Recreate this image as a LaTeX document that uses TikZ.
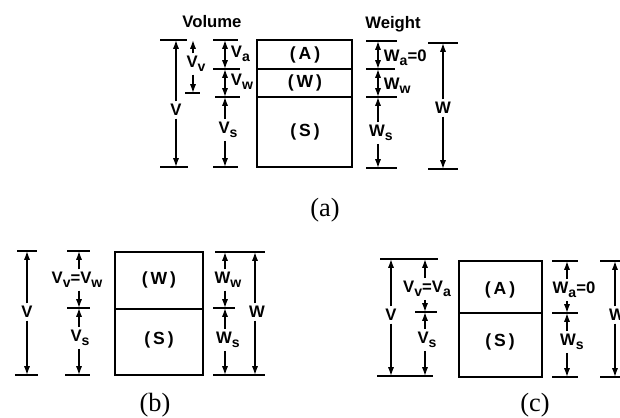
\documentclass[tikz,border=0pt]{standalone}
\usepackage{fontspec}
\setmainfont{Liberation Serif}
\setsansfont{Liberation Sans}
\usetikzlibrary{arrows.meta}
\newcommand{\lowsub}[1]{\raisebox{-0.45ex}{\fontsize{8}{8}\selectfont #1}}

\begin{document}
\begin{tikzpicture}[x=0.02cm, y=-0.02cm,
    lbl/.style={font=\sffamily\bfseries\fontsize{9.5}{10}\selectfont, inner sep=1.5pt},
    box_lbl/.style={font=\sffamily\bfseries\fontsize{10}{10}\selectfont},
    head/.style={font=\sffamily\bfseries\fontsize{9.5}{10}\selectfont},
    captxt/.style={font=\fontsize{15}{16}\selectfont},
    bar/.style={line width=0.9pt},
    box/.style={line width=1pt},
    dim/.style={line width=0.8pt, -{Latex[length=5pt,width=3.5pt]}},
    dimboth/.style={line width=0.8pt, {Latex[length=5pt,width=3.5pt]}-{Latex[length=5pt,width=3.5pt]}}]
    \useasboundingbox (0,0) rectangle (620,417);

    % (a) three phases
    \node[head] (a_vol) at (212,22) {Volume};
    \node[head] (a_wgt) at (393,24) {Weight};

    \draw[box] (257,40) rectangle (352,167);
    \draw[box] (257,69) -- (352,69);
    \draw[box] (257,97) -- (352,97);
    \node[box_lbl] (a_A) at (305,55) {(\,A\,)};
    \node[box_lbl] (a_W) at (305,83) {(\,W\,)};
    \node[box_lbl] (a_S) at (305,132) {(\,S\,)};

    \draw[bar] (160,40) -- (187,40);
    \draw[bar] (160,167) -- (188,167);
    \coordinate (aV1) at (176,40);
    \coordinate (aV2) at (176,167);
    \node[lbl] (aV) at (176,110) {V};
    \draw[dim] (aV) -- (aV1);
    \draw[dim] (aV) -- (aV2);

    \draw[bar] (185,93) -- (200,93);
    \coordinate (aVv1) at (193,40);
    \coordinate (aVv2) at (193,93);
    \node[lbl] (aVv) at (196,64) {V\lowsub{v}};
    \draw[dim] (aVv.north -| aVv1) -- (aVv1);
    \draw[dim] (aVv.south -| aVv2) -- (aVv2);

    \draw[bar] (213,40) -- (238,40);
    \draw[bar] (213,69) -- (240,69);
    \draw[bar] (215,97) -- (240,97);
    \draw[bar] (213,167) -- (238,167);
    \coordinate (aVs1) at (225,40);
    \coordinate (aVs2) at (225,69);
    \coordinate (aVs3) at (225,97);
    \coordinate (aVs4) at (225,167);
    \draw[dimboth] (aVs1) -- (aVs2);
    \draw[dimboth] (aVs2) -- (aVs3);
    \node[lbl, anchor=west] (aVa) at (228,54) {V\lowsub{a}};
    \node[lbl, anchor=west] (aVw) at (228,82) {V\lowsub{w}};
    \node[lbl] (aVs) at (228,130) {V\lowsub{s}};
    \draw[dim] (aVs.north -| aVs3) -- (aVs3);
    \draw[dim] (aVs.south -| aVs4) -- (aVs4);

    \draw[bar] (366,41) -- (397,41);
    \draw[bar] (366,69) -- (395,69);
    \draw[bar] (366,97) -- (397,97);
    \draw[bar] (366,168) -- (397,168);
    \coordinate (aW1) at (378,41);
    \coordinate (aW2) at (378,69);
    \coordinate (aW3) at (378,97);
    \coordinate (aW4) at (378,168);
    \draw[dimboth] (aW1) -- (aW2);
    \draw[dimboth] (aW2) -- (aW3);
    \node[lbl, anchor=west] (aWa) at (381,58) {W\lowsub{a}=0};
    \node[lbl, anchor=west] (aWw) at (381,86) {W\lowsub{w}};
    \node[lbl] (aWs) at (381,133) {W\lowsub{s}};
    \draw[dim] (aWs.north -| aW3) -- (aW3);
    \draw[dim] (aWs.south -| aW4) -- (aW4);

    \draw[bar] (428,43) -- (458,43);
    \draw[bar] (428,169) -- (458,169);
    \coordinate (aWt1) at (443,43);
    \coordinate (aWt2) at (443,169);
    \node[lbl] (aWt) at (443,108) {W};
    \draw[dim] (aWt) -- (aWt1);
    \draw[dim] (aWt) -- (aWt2);

    \node[captxt] (cap_a) at (325,210) {(a)};

    % (b) saturated
    \draw[box] (115,252) rectangle (203,375);
    \draw[box] (115,309) -- (203,309);
    \node[box_lbl] (b_W) at (159,280) {(\,W\,)};
    \node[box_lbl] (b_S) at (159,340) {(\,S\,)};

    \draw[bar] (17,251) -- (37,251);
    \draw[bar] (15,375) -- (38,375);
    \coordinate (bV1) at (27,251);
    \coordinate (bV2) at (27,375);
    \node[lbl] (bV) at (27,312) {V};
    \draw[dim] (bV) -- (bV1);
    \draw[dim] (bV) -- (bV2);

    \draw[bar] (67,251) -- (90,251);
    \draw[bar] (67,308) -- (90,308);
    \draw[bar] (65,375) -- (90,375);
    \coordinate (bVs1) at (79,251);
    \coordinate (bVs2) at (79,308);
    \coordinate (bVs3) at (79,375);
    \node[lbl] (bVv) at (77,280) {V\lowsub{v}=V\lowsub{w}};
    \node[lbl] (bVs) at (80,338) {V\lowsub{s}};
    \draw[dim] (bVv.north -| bVs1) -- (bVs1);
    \draw[dim] (bVv.south -| bVs2) -- (bVs2);
    \draw[dim] (bVs.north -| bVs2) -- (bVs2);
    \draw[dim] (bVs.south -| bVs3) -- (bVs3);

    \draw[bar] (215,252) -- (265,252);
    \draw[bar] (213,308) -- (235,308);
    \draw[bar] (213,375) -- (265,375);
    \coordinate (bW1) at (225,252);
    \coordinate (bW2) at (225,308);
    \coordinate (bW3) at (225,375);
    \node[lbl] (bWw) at (228,280) {W\lowsub{w}};
    \node[lbl] (bWs) at (228,340) {W\lowsub{s}};
    \draw[dim] (bWw.north -| bW1) -- (bW1);
    \draw[dim] (bWw.south -| bW2) -- (bW2);
    \draw[dim] (bWs.north -| bW2) -- (bW2);
    \draw[dim] (bWs.south -| bW3) -- (bW3);

    \coordinate (bWt1) at (255,252);
    \coordinate (bWt2) at (255,375);
    \node[lbl] (bWt) at (257,312) {W};
    \draw[dim] (bWt.north -| bWt1) -- (bWt1);
    \draw[dim] (bWt.south -| bWt2) -- (bWt2);

    \node[captxt] (cap_b) at (155,405) {(b)};

    % (c) dry
    \draw[box] (459,261) rectangle (542,377);
    \draw[box] (459,313) -- (542,313);
    \node[box_lbl] (c_A) at (500,290) {(\,A\,)};
    \node[box_lbl] (c_S) at (500,342) {(\,S\,)};

    \draw[bar] (380,259) -- (438,259);
    \draw[bar] (377,376) -- (433,376);
    \coordinate (cV1) at (391,259);
    \coordinate (cV2) at (391,376);
    \node[lbl] (cV) at (391,315) {V};
    \draw[dim] (cV) -- (cV1);
    \draw[dim] (cV) -- (cV2);

    \draw[bar] (415,312) -- (437,312);
    \coordinate (cVs1) at (425,259);
    \coordinate (cVs2) at (425,312);
    \coordinate (cVs3) at (425,376);
    \node[lbl] (cVv) at (427,289) {V\lowsub{v}=V\lowsub{a}};
    \node[lbl] (cVs) at (427,340) {V\lowsub{s}};
    \draw[dim] (cVv.north -| cVs1) -- (cVs1);
    \draw[dim] (cVv.south -| cVs2) -- (cVs2);
    \draw[dim] (cVs.north -| cVs2) -- (cVs2);
    \draw[dim] (cVs.south -| cVs3) -- (cVs3);

    \draw[bar] (552,261) -- (578,261);
    \draw[bar] (552,313) -- (578,313);
    \draw[bar] (552,377) -- (578,377);
    \coordinate (cW1) at (567,261);
    \coordinate (cW2) at (567,313);
    \coordinate (cW3) at (567,377);
    \node[lbl] (cWa) at (574,290) {W\lowsub{a}=0};
    \node[lbl] (cWs) at (572,342) {W\lowsub{s}};
    \draw[dim] (cWa.north -| cW1) -- (cW1);
    \draw[dim] (cWa.south -| cW2) -- (cW2);
    \draw[dim] (cWs.north -| cW2) -- (cW2);
    \draw[dim] (cWs.south -| cW3) -- (cW3);

    \draw[bar] (600,261) -- (625,261);
    \draw[bar] (600,377) -- (625,377);
    \coordinate (cWt1) at (615,261);
    \coordinate (cWt2) at (615,377);
    \node[lbl] (cWt) at (617,315) {W};
    \draw[dim] (cWt.north -| cWt1) -- (cWt1);
    \draw[dim] (cWt.south -| cWt2) -- (cWt2);

    \node[captxt] (cap_c) at (535,405) {(c)};
\end{tikzpicture}
\end{document}
